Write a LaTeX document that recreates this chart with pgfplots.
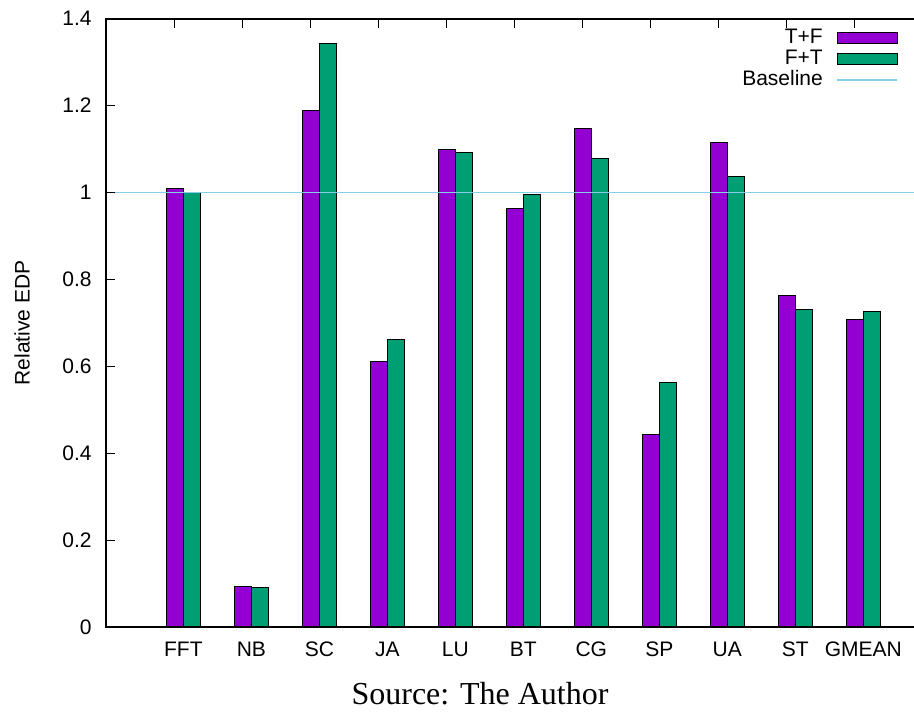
\documentclass[border=0pt]{standalone}
\usepackage{fontspec}
\setmainfont{Liberation Sans}
\newfontfamily\seriffont{Liberation Serif}
\usepackage{pgfplots}
\usepackage{pgfplotstable}
\pgfplotsset{compat=1.18}
\definecolor{tfcol}{HTML}{9400D3}
\definecolor{ftcol}{HTML}{009E73}
\definecolor{basecol}{HTML}{87CEEB}

\pgfplotstableread{
idx tf ft
0 1.009 1.000
1 0.094 0.091
2 1.189 1.342
3 0.610 0.661
4 1.098 1.093
5 0.964 0.996
6 1.148 1.079
7 0.444 0.563
8 1.115 1.037
9 0.762 0.730
10 0.707 0.727
}\datatable

\begin{document}
\begin{tikzpicture}
\begin{axis}[
  name=ax,
  scale only axis,
  width=405pt, height=304.15pt,
  xmin=-1.137, xmax=10.775,
  ymin=0, ymax=1.4,
  axis line style={line width=0.9pt},
  xtick={-0.132,0.868,1.868,2.868,3.868,4.868,5.868,6.868,7.868,8.868,9.868},
  xticklabels={FFT,NB,SC,JA,LU,BT,CG,SP,UA,ST,GMEAN},
  xtick pos=top, xticklabel pos=bottom,
  ytick={0,0.2,0.4,0.6,0.8,1,1.2,1.4},
  ytick pos=left,
  xtick align=inside, ytick align=inside,
  major tick length=4.5pt,
  major tick style={draw=black, line width=0.6pt},
  axis on top,
  /pgf/number format/assume math mode=true,
  tick label style={font=\fontsize{10.5}{12}\selectfont},
  xticklabel style={inner sep=0pt, yshift=-7.3pt, xshift=4.5pt},
  yticklabel style={inner sep=0pt, xshift=-7pt},
  ylabel={Relative EDP},
  every axis y label/.style={at={(axis description cs:-0.1037,0.5)}, rotate=90, anchor=center, font=\fontsize{10.5}{12}\selectfont},
  legend cell align=right,
  legend plot pos=right,
  legend style={draw=none, fill=none, at={(rel axis cs:1,1)}, anchor=north east,
    xshift=-9pt, yshift=-4.4pt, inner sep=0pt, outer sep=0pt, row sep=0pt,
    font=\fontsize{10.5}{12}\selectfont,
    nodes={inner sep=0pt, text height=8pt, text depth=2.5pt},
    /tikz/every odd column/.append style={column sep=7pt}},
]
\addplot[ybar, bar width=0.25, bar shift=-0.125, fill=tfcol, draw=black, line width=0.5pt,
  legend image code/.code={\draw[draw=black, fill=tfcol, line width=0.5pt] (0pt,-2.6pt) rectangle (30pt,2.6pt);}]
  table[x=idx, y=tf]{\datatable};
\addlegendentry{T+F}
\addplot[ybar, bar width=0.25, bar shift=0.125, fill=ftcol, draw=black, line width=0.5pt,
  legend image code/.code={\draw[draw=black, fill=ftcol, line width=0.5pt] (0pt,-2.6pt) rectangle (30pt,2.6pt);}]
  table[x=idx, y=ft]{\datatable};
\addlegendentry{F+T}
\addplot[basecol, line width=0.6pt,
  legend image code/.code={\draw[basecol, line width=0.6pt] (0pt,0pt) -- (30pt,0pt);}]
  coordinates {(-1.137,1) (10.775,1)};
\addlegendentry{Baseline}
\end{axis}
\node[font=\seriffont\fontsize{16}{18}\selectfont, anchor=center] at ([xshift=187pt, yshift=-33.5pt]ax.south west) {Source: The Author};
\pgfresetboundingbox
\path[use as bounding box] ([xshift=-53pt, yshift=-43pt]ax.south west) rectangle ([xshift=-1pt, yshift=9.35pt]ax.north east);
\end{tikzpicture}
\end{document}
